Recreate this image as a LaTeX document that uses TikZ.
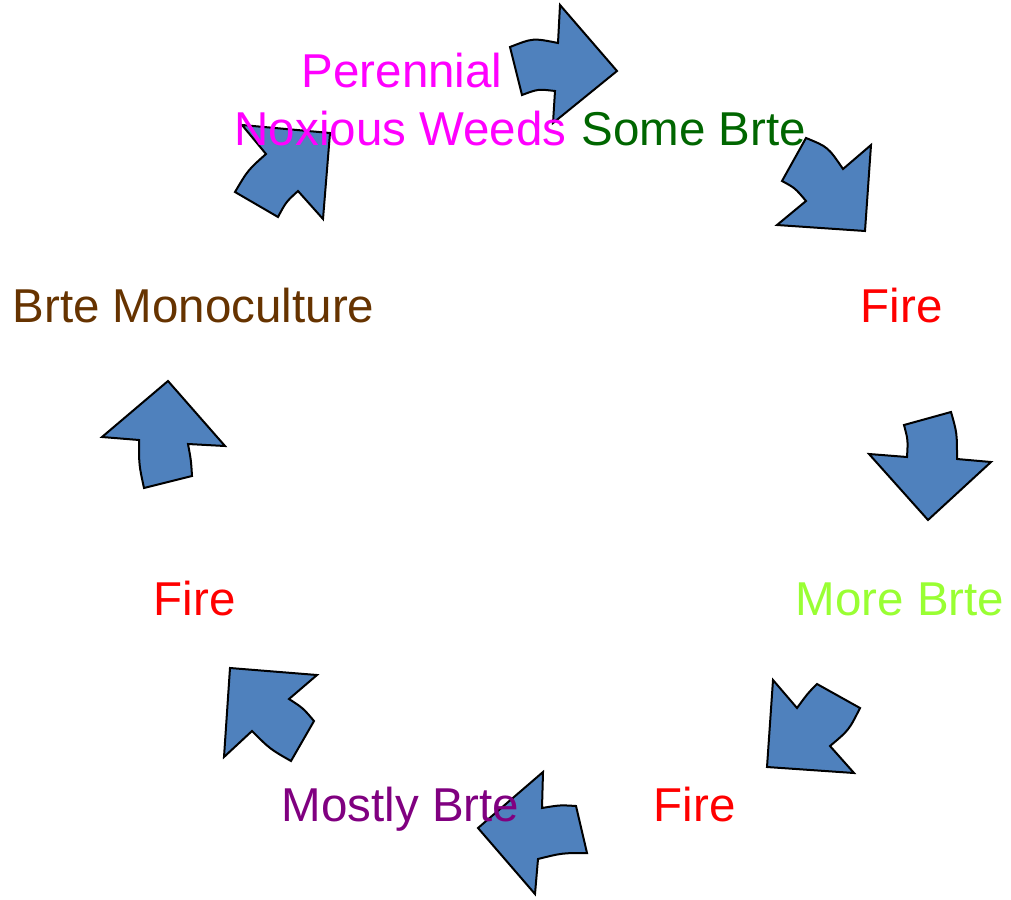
\documentclass[tikz,border=0pt]{standalone}
\usepackage{fontspec}
\setmainfont{Liberation Sans}
\definecolor{arrowblue}{HTML}{4F81BD}
\definecolor{cmag}{HTML}{FF00FF}
\definecolor{cdgreen}{HTML}{006600}
\definecolor{cred}{HTML}{FF0000}
\definecolor{clgreen}{HTML}{99FF33}
\definecolor{cpurple}{HTML}{800080}
\definecolor{cbrown}{HTML}{663300}
\begin{document}
\begin{tikzpicture}[x=1pt,y=-1pt,
  arr/.style={draw=black,line width=2pt,fill=arrowblue,line join=miter},
  lbl/.style={inner sep=0pt,anchor=base west,font=\fontsize{47.5}{57}\selectfont}]
\path[use as bounding box] (0,0) rectangle (1011,899);
% arrows
\draw[arr] (510,47) .. controls (533,38) .. (558,43) -- (560,5) -- (617,71) -- (553,123) -- (555,91) .. controls (538,89) .. (522,95) -- cycle;
\draw[arr] (806,138) .. controls (828,147) .. (843,169) -- (871,145) -- (865,231) -- (777,225) -- (806,201) .. controls (795,188) .. (782,181) -- cycle;
\draw[arr] (904,425) -- (951,412) .. controls (957,433) .. (957,459) -- (991,462) -- (928,520) -- (869,454) -- (907,457) .. controls (908,440) .. cycle;
\draw[arr] (773,680) -- (797,708) .. controls (808,693) .. (817,684) -- (860,708) .. controls (849,730) .. (830,746) -- (854,773) -- (767,767) -- cycle;
\draw[arr] (543,772) -- (542,808) .. controls (560,805) .. (576,806) -- (587,853) .. controls (562,853) .. (538,859) -- (535,894) -- (478,828) -- cycle;
\draw[arr] (230,668) -- (317,675) -- (289,699) .. controls (303,708) .. (314,721) -- (291,761) .. controls (270,749) .. (252,731) -- (224,757) -- cycle;
\draw[arr] (168,381) -- (225,446) -- (188,444) .. controls (191,460) .. (192,476) -- (144,488) .. controls (139,465) .. (139,440) -- (102,437) -- cycle;
\draw[arr] (242,125) -- (330,133) -- (323,219) -- (298,191) .. controls (286,202) .. (278,217) -- (235,192) .. controls (248,170) .. (266,154) -- cycle;
% labels
\node[lbl,text=cmag] (per) at (301.5,87) {Perennial};
\node[lbl,text=cmag] (nox) at (234.5,145) {Noxious Weeds};
\node[lbl,text=cdgreen] (some) at (581.5,145) {Some Brte};
\node[lbl,text=cred] (fire1) at (860.5,322) {Fire};
\node[lbl,text=clgreen] (more) at (795.5,615) {More Brte};
\node[lbl,text=cred] (fire2) at (653.5,821) {Fire};
\node[lbl,text=cpurple] (mostly) at (281.5,821) {Mostly Brte};
\node[lbl,text=cred] (fire3) at (153.5,615) {Fire};
\node[lbl,text=cbrown] (mono) at (12.5,322) {Brte Monoculture};
\end{tikzpicture}
\end{document}
